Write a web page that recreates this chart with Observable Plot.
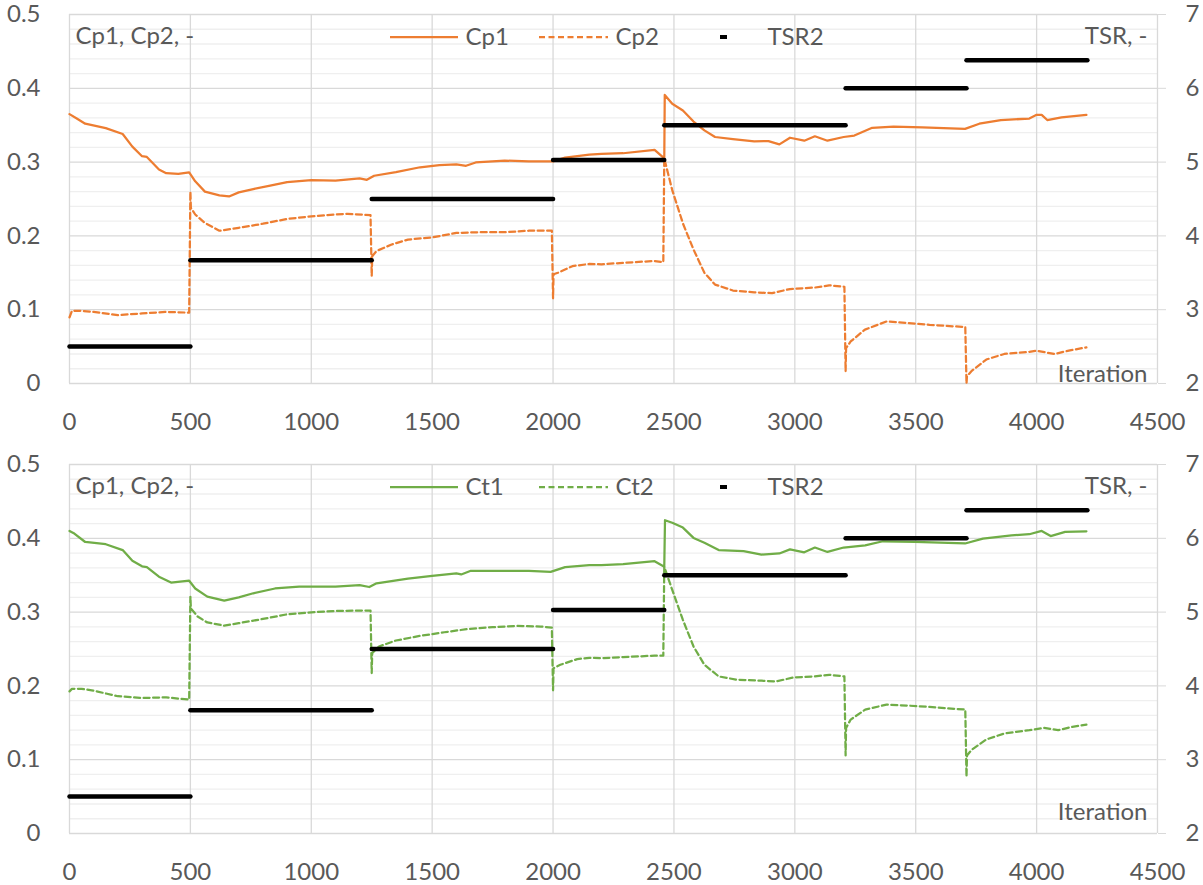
<!DOCTYPE html>
<html><head><meta charset="utf-8">
<script src="https://cdn.jsdelivr.net/npm/d3@7"></script>
<script src="https://cdn.jsdelivr.net/npm/@observablehq/plot@0.6"></script>
<style>body{margin:0;background:#fff} svg{display:block;overflow:visible}</style>
</head><body><div id="chart"></div>
<script>
// ---------- data ----------
const xTicks = [0, 500, 1000, 1500, 2000, 2500, 3000, 3500, 4000, 4500];
const yTicks = [0, 0.1, 0.2, 0.3, 0.4, 0.5];
const yMinorTicks = [0.02,0.04,0.06,0.08,0.12,0.14,0.16,0.18,0.22,0.24,0.26,0.28,0.32,0.34,0.36,0.38,0.42,0.44,0.46,0.48];
const tsrTicks = [2, 3, 4, 5, 6, 7];

// TSR2 steps (right axis)
const tsrStart = [0, 500, 1250, 2000, 2460, 3210, 3710];
const tsrEnd   = [500, 1250, 2000, 2460, 3210, 3710, 4210];
const tsrValue = [2.5, 3.67, 4.5, 5.03, 5.5, 6.0, 6.38];

// [iteration, value]
const cp1 = [[0,0.365],[30,0.359],[65,0.352],[150,0.346],[220,0.338],[260,0.321],[300,0.308],[320,0.307],[370,0.290],[400,0.285],[450,0.284],[495,0.286],[520,0.274],[560,0.260],[620,0.255],[660,0.2535],[700,0.259],[760,0.2635],[830,0.268],[900,0.273],[1000,0.2755],[1100,0.275],[1200,0.278],[1230,0.276],[1260,0.2815],[1350,0.2865],[1450,0.293],[1530,0.296],[1600,0.297],[1640,0.295],[1680,0.2995],[1800,0.302],[1900,0.301],[2000,0.301],[2050,0.306],[2150,0.310],[2200,0.311],[2290,0.312],[2420,0.3165],[2460,0.305],[2462,0.391],[2493,0.379],[2537,0.370],[2581,0.355],[2626,0.343],[2670,0.334],[2744,0.331],[2832,0.328],[2891,0.3285],[2936,0.324],[2980,0.333],[3039,0.329],[3083,0.335],[3135,0.329],[3202,0.334],[3246,0.336],[3320,0.3465],[3408,0.348],[3527,0.347],[3704,0.345],[3763,0.352],[3852,0.357],[3970,0.359],[4000,0.364],[4021,0.364],[4044,0.357],[4103,0.3605],[4206,0.364]];

const cp2 = [[0,0.0895],[10,0.0985],[50,0.0985],[100,0.097],[200,0.0925],[300,0.095],[400,0.097],[495,0.096],[500,0.260],[502,0.238],[520,0.229],[560,0.2175],[620,0.207],[700,0.211],[800,0.2165],[900,0.223],[1000,0.2265],[1100,0.229],[1150,0.230],[1245,0.228],[1250,0.1455],[1252,0.1725],[1270,0.1795],[1330,0.188],[1400,0.195],[1500,0.198],[1600,0.204],[1700,0.205],[1800,0.205],[1900,0.207],[1995,0.207],[2000,0.1155],[2002,0.148],[2020,0.150],[2080,0.159],[2150,0.162],[2200,0.1615],[2290,0.1635],[2420,0.166],[2456,0.1645],[2460,0.305],[2493,0.262],[2537,0.217],[2581,0.1815],[2626,0.150],[2670,0.134],[2744,0.126],[2832,0.1235],[2906,0.1225],[2980,0.128],[3083,0.130],[3142,0.133],[3205,0.131],[3210,0.0165],[3212,0.048],[3231,0.057],[3290,0.073],[3379,0.084],[3468,0.082],[3557,0.0795],[3705,0.0765],[3710,0.0],[3712,0.010],[3733,0.0175],[3792,0.0325],[3866,0.040],[3970,0.043],[4000,0.0445],[4074,0.040],[4133,0.0445],[4206,0.049]];

const ct1 = [[0,0.410],[20,0.4064],[65,0.395],[150,0.392],[220,0.384],[260,0.3695],[300,0.362],[320,0.361],[370,0.348],[420,0.340],[495,0.3425],[520,0.332],[570,0.321],[640,0.3155],[700,0.320],[760,0.3255],[850,0.332],[950,0.3345],[1100,0.3345],[1200,0.3365],[1240,0.334],[1270,0.339],[1400,0.3455],[1500,0.349],[1600,0.3525],[1620,0.351],[1660,0.356],[1800,0.356],[1900,0.356],[1990,0.3545],[2050,0.361],[2150,0.3635],[2200,0.3635],[2290,0.365],[2420,0.369],[2460,0.3615],[2463,0.4245],[2493,0.421],[2537,0.4145],[2581,0.4005],[2626,0.394],[2685,0.384],[2788,0.3825],[2862,0.378],[2936,0.3795],[2980,0.385],[3039,0.381],[3083,0.3875],[3135,0.3815],[3202,0.3875],[3291,0.3905],[3364,0.396],[3497,0.395],[3704,0.393],[3778,0.3996],[3896,0.404],[3970,0.4055],[4021,0.410],[4058,0.403],[4118,0.4086],[4206,0.4095]];

const ct2 = [[0,0.1926],[10,0.196],[50,0.196],[100,0.1935],[200,0.186],[300,0.1836],[400,0.1845],[495,0.1814],[500,0.321],[502,0.305],[530,0.294],[570,0.286],[640,0.2817],[700,0.285],[800,0.2907],[900,0.297],[1000,0.2997],[1100,0.3015],[1200,0.302],[1245,0.302],[1250,0.2174],[1252,0.2444],[1280,0.2534],[1350,0.2615],[1450,0.2678],[1550,0.2727],[1650,0.2772],[1750,0.2795],[1850,0.2813],[1950,0.2804],[1995,0.279],[2000,0.194],[2002,0.224],[2030,0.2286],[2100,0.2363],[2150,0.238],[2200,0.2376],[2290,0.239],[2420,0.241],[2456,0.241],[2460,0.3614],[2493,0.330],[2537,0.2894],[2581,0.2534],[2626,0.2286],[2685,0.2129],[2759,0.2084],[2862,0.207],[2921,0.206],[2995,0.2115],[3083,0.2129],[3142,0.215],[3205,0.2129],[3210,0.1058],[3212,0.143],[3231,0.1544],[3291,0.1679],[3379,0.1746],[3468,0.1733],[3557,0.1715],[3705,0.1679],[3710,0.077],[3712,0.1058],[3733,0.1139],[3792,0.1274],[3866,0.1355],[3970,0.14],[4030,0.1431],[4089,0.14],[4148,0.1445],[4206,0.1476]];

const panels = [
  {s1: cp1, s2: cp2, name1: "Cp1", name2: "Cp2", color: "#ED7D31", height: 442, marginTop: 14, marginBottom: 59, iterDy: 9},
  {s1: ct1, s2: ct2, name1: "Ct1", name2: "Ct2", color: "#70AD47", height: 443, marginTop: 22, marginBottom: 52, iterDy: 21}
];
const leftTitle = "Cp1, Cp2, -";
const rightTitle = "TSR, -";
const xTitle = "Iteration";
const tsrName = "TSR2";

// ---------- drawing ----------
const FONT = "Lato, 'Open Sans', sans-serif";
const TXT = "#595959";
const tsrToY = t => (t - 2) / 10;   // right axis 2..7 mapped onto left 0..0.5

function panel(p) {
  const segIdx = tsrStart.map((_, i) => i);
  const chart = Plot.plot({
    width: 1203, height: p.height,
    marginLeft: 69, marginRight: 46, marginTop: p.marginTop, marginBottom: p.marginBottom,
    x: {domain: [0, 4500]},
    y: {domain: [0, 0.5]},
    style: {fontFamily: FONT, fontSize: "24px", color: TXT, background: "white", overflow: "visible"},
    marks: [
      Plot.ruleY(yMinorTicks, {stroke: "#efefef", strokeWidth: 1.3}),
      Plot.ruleY(yTicks, {stroke: "#d9d9d9", strokeWidth: 1.3}),
      Plot.ruleX(xTicks, {stroke: "#d9d9d9", strokeWidth: 1.3}),
      Plot.axisY({ticks: yTicks, tickSize: 0, tickPadding: 29, label: null, fill: TXT,
        tickFormat: d => d === 0 ? "0" : d3.format(".1f")(d)}),
      Plot.axisY({anchor: "right", ticks: yTicks, tickSize: 8, tickPadding: 20, label: null,
        stroke: "#d9d9d9", fill: TXT, tickFormat: (d, i) => String(tsrTicks[i])}),
      Plot.axisX({ticks: xTicks, tickSize: 0, tickPadding: 29, label: null, fill: TXT,
        tickFormat: d => String(d)}),
      Plot.line(p.s1, {x: d => d[0], y: d => d[1], stroke: p.color, strokeWidth: 2.25}),
      Plot.line(p.s2, {x: d => d[0], y: d => d[1], stroke: p.color, strokeWidth: 2.25, strokeDasharray: "6,3.5"}),
      Plot.link(segIdx, {x1: i => tsrStart[i], x2: i => tsrEnd[i],
        y1: i => tsrToY(tsrValue[i]), y2: i => tsrToY(tsrValue[i]),
        stroke: "black", strokeWidth: 4.5, strokeLinecap: "round"}),
      Plot.text([leftTitle], {frameAnchor: "top-left", textAnchor: "start", lineAnchor: "middle", dx: 6, dy: 22, fill: TXT}),
      Plot.text([rightTitle], {frameAnchor: "top-right", textAnchor: "end", lineAnchor: "middle", dx: -10, dy: 22, fill: TXT}),
      Plot.text([xTitle], {frameAnchor: "bottom-right", textAnchor: "end", lineAnchor: "middle", dx: -10, dy: -p.iterDy, fill: TXT}),
      Plot.text([p.name1], {frameAnchor: "top-left", textAnchor: "start", lineAnchor: "middle", dx: 465 - 69, dy: 23, fill: TXT}),
      Plot.text([p.name2], {frameAnchor: "top-left", textAnchor: "start", lineAnchor: "middle", dx: 615 - 69, dy: 23, fill: TXT}),
      Plot.text([tsrName], {frameAnchor: "top-left", textAnchor: "start", lineAnchor: "middle", dx: 767 - 69, dy: 23, fill: TXT})
    ]
  });
  // legend samples
  const svg = d3.select(chart);
  const ly = p.marginTop + 23;
  svg.append("line").attr("x1", 390).attr("x2", 458).attr("y1", ly).attr("y2", ly)
    .attr("stroke", p.color).attr("stroke-width", 2.25);
  svg.append("line").attr("x1", 539).attr("x2", 608).attr("y1", ly).attr("y2", ly)
    .attr("stroke", p.color).attr("stroke-width", 2.25).attr("stroke-dasharray", "6,3.5");
  svg.append("line").attr("x1", 720).attr("x2", 727).attr("y1", ly).attr("y2", ly)
    .attr("stroke", "black").attr("stroke-width", 4);
  return chart;
}

const root = document.getElementById("chart");
panels.forEach(p => root.appendChild(panel(p)));
</script>
</body></html>
